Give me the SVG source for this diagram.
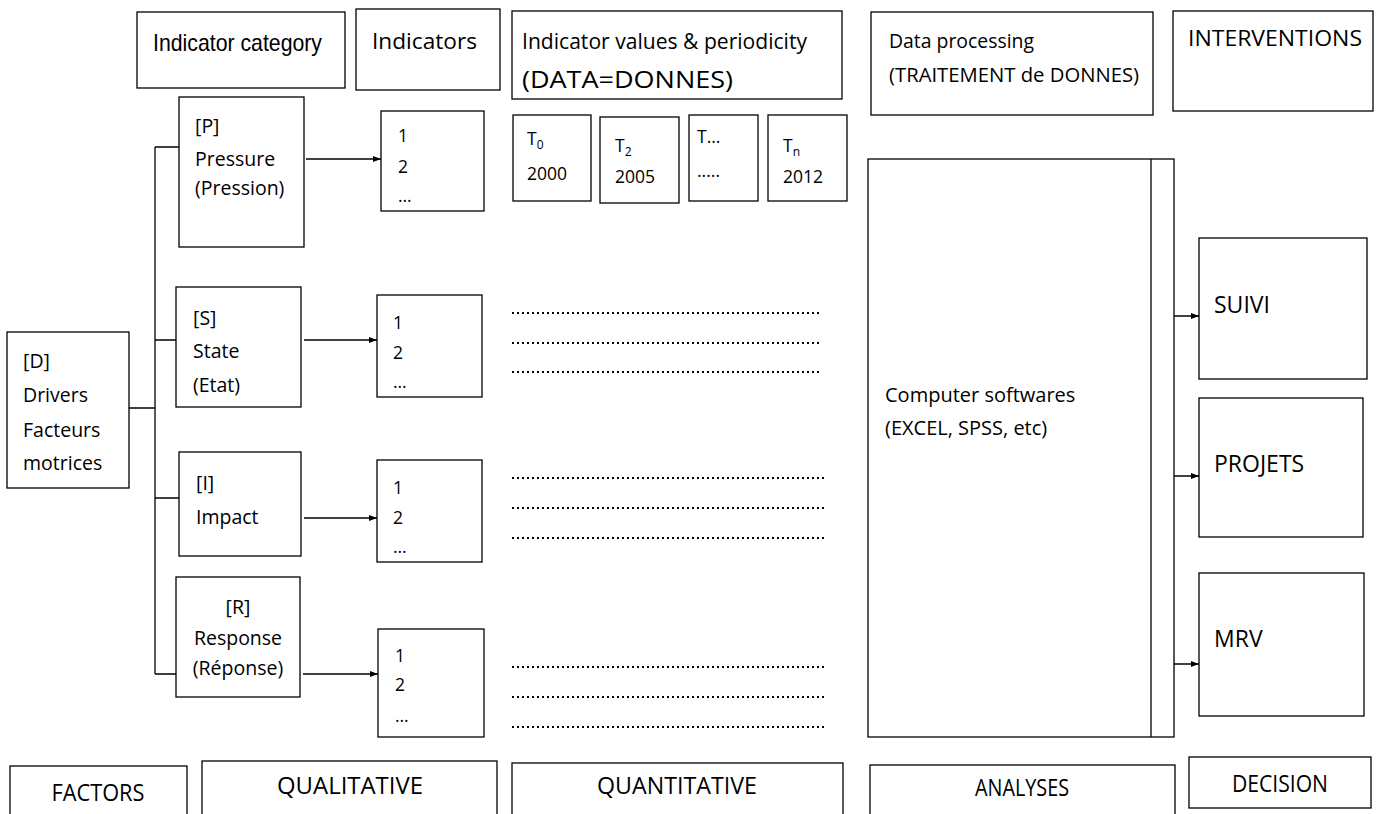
<svg xmlns="http://www.w3.org/2000/svg" width="1386" height="814" viewBox="0 0 1386 814">
<defs>
<marker id="ah" markerWidth="8" markerHeight="6" refX="8" refY="3" orient="auto" markerUnits="userSpaceOnUse"><path d="M0,0 L8,3 L0,6 z" fill="#000"/></marker>
</defs>
<style>
rect{fill:#fff;stroke:#000;stroke-width:1.3}
text{font-family:"Open Sans","Noto Sans",sans-serif;fill:#000;font-size:19.5px}
.ln{stroke:#000;stroke-width:1.3;fill:none}
.ar{stroke:#000;stroke-width:1.5;fill:none;marker-end:url(#ah)}
.dot{stroke:#000;stroke-width:2;stroke-dasharray:2 3;fill:none}
.ix{font-size:17.5px}
.tb{font-size:17.5px}
.big{font-size:23px}
.bot{font-size:23px;text-anchor:middle}
</style>
<rect x="0" y="0" width="1386" height="814" style="stroke:none;fill:#fff"/>

<g id="hdr-category"><rect x="137" y="12" width="208" height="76"/><text x="153" y="51" style="font-family:'Liberation Sans',sans-serif;font-size:24px" textLength="169" lengthAdjust="spacingAndGlyphs">Indicator category</text></g>
<g id="hdr-indicators"><rect x="356" y="9" width="144" height="81"/><text x="372" y="49" style="font-size:22px" textLength="105" lengthAdjust="spacingAndGlyphs">Indicators</text></g>
<g id="hdr-values"><rect x="512" y="11" width="330" height="88"/><text x="522" y="49" style="font-size:21.5px" textLength="285" lengthAdjust="spacingAndGlyphs">Indicator values &amp; periodicity</text><text x="522" y="88" style="font-size:23px" textLength="211" lengthAdjust="spacingAndGlyphs">(DATA=DONNES)</text></g>
<g id="hdr-processing"><rect x="871" y="12" width="282" height="103"/><text x="889" y="48" style="font-size:20.5px" textLength="145" lengthAdjust="spacingAndGlyphs">Data processing</text><text x="889" y="82" style="font-size:20.5px" textLength="250" lengthAdjust="spacingAndGlyphs">(TRAITEMENT de DONNES)</text></g>
<g id="hdr-interventions"><rect x="1173" y="11" width="200" height="100"/><text x="1188" y="46" style="font-size:22px" textLength="174" lengthAdjust="spacingAndGlyphs">INTERVENTIONS</text></g>

<g id="connectors">
<path class="ln" d="M155,147 V674 M155,147 H179 M129,408 H155 M155,340 H176 M155,498 H179 M155,674 H176"/>
<path class="ar" d="M306,159 H381"/>
<path class="ar" d="M304,340 H377"/>
<path class="ar" d="M304,518 H377"/>
<path class="ar" d="M303,674 H378"/>
<path class="ar" d="M1172,316 H1199"/>
<path class="ar" d="M1172,476 H1199"/>
<path class="ar" d="M1172,664 H1199"/>
</g>

<g id="node-D"><rect x="7" y="332" width="122" height="156"/><text x="23" y="368">[D]</text><text x="23" y="402">Drivers</text><text x="23" y="437">Facteurs</text><text x="23" y="470">motrices</text></g>
<g id="node-P"><rect x="179" y="97" width="125" height="150"/><text x="195" y="133">[P]</text><text x="195" y="166">Pressure</text><text x="195" y="195">(Pression)</text></g>
<g id="node-S"><rect x="176" y="287" width="125" height="120"/><text x="193" y="325">[S]</text><text x="193" y="358">State</text><text x="193" y="392">(Etat)</text></g>
<g id="node-I"><rect x="179" y="452" width="122" height="104"/><text x="196" y="490">[I]</text><text x="196" y="524">Impact</text></g>
<g id="node-R"><rect x="176" y="577" width="124" height="120"/><text x="238" y="614" text-anchor="middle">[R]</text><text x="238" y="645" text-anchor="middle">Response</text><text x="238" y="675" text-anchor="middle">(Réponse)</text></g>

<g id="ind-P"><rect x="381" y="111" width="103" height="100"/><text class="ix" x="398" y="142">1</text><text class="ix" x="398" y="173">2</text><text class="ix" x="398" y="202">…</text></g>
<g id="ind-S"><rect x="377" y="295" width="105" height="102"/><text class="ix" x="393" y="329">1</text><text class="ix" x="393" y="359">2</text><text class="ix" x="393" y="388">…</text></g>
<g id="ind-I"><rect x="377" y="460" width="105" height="102"/><text class="ix" x="393" y="494">1</text><text class="ix" x="393" y="524">2</text><text class="ix" x="393" y="553">…</text></g>
<g id="ind-R"><rect x="378" y="629" width="106" height="108"/><text class="ix" x="395" y="662">1</text><text class="ix" x="395" y="691">2</text><text class="ix" x="395" y="722">…</text></g>

<g id="t0"><rect x="513" y="115" width="78" height="86"/><text class="tb" x="527" y="145">T<tspan dy="4" font-size="12">0</tspan></text><text class="tb" x="527" y="180">2000</text></g>
<g id="t2"><rect x="600" y="117" width="79" height="86"/><text class="tb" x="615" y="152">T<tspan dy="4" font-size="12">2</tspan></text><text class="tb" x="615" y="183">2005</text></g>
<g id="tdots"><rect x="689" y="115" width="69" height="86"/><text class="tb" x="697" y="143">T…</text><text class="tb" x="697" y="177">.....</text></g>
<g id="tn"><rect x="768" y="115" width="79" height="86"/><text class="tb" x="783" y="152">T<tspan dy="4" font-size="12">n</tspan></text><text class="tb" x="783" y="183">2012</text></g>

<g id="values-dots">
<path class="dot" d="M512,313 H819 M512,343 H819 M512,372 H819"/>
<path class="dot" d="M512,478 H826 M512,508 H826 M512,538 H826"/>
<path class="dot" d="M512,667 H826 M512,697 H826 M512,727 H826"/>
</g>

<g id="software"><rect x="868" y="159" width="306" height="578"/><path class="ln" d="M1151,159 V737"/><text x="885" y="402" style="font-size:20px">Computer softwares</text><text x="885" y="435" style="font-size:20px">(EXCEL, SPSS, etc)</text></g>

<g id="suivi"><rect x="1199" y="238" width="168" height="141"/><text class="big" x="1214" y="313">SUIVI</text></g>
<g id="projets"><rect x="1199" y="398" width="164" height="139"/><text class="big" x="1214" y="472">PROJETS</text></g>
<g id="mrv"><rect x="1199" y="573" width="165" height="143"/><text class="big" x="1214" y="647">MRV</text></g>

<g id="factors"><rect x="10" y="766" width="177" height="60"/><text class="bot" x="98" y="801" textLength="93" lengthAdjust="spacingAndGlyphs">FACTORS</text></g>
<g id="qualitative"><rect x="202" y="761" width="295" height="60"/><text class="bot" x="350" y="794" textLength="146" lengthAdjust="spacingAndGlyphs">QUALITATIVE</text></g>
<g id="quantitative"><rect x="512" y="763" width="331" height="60"/><text class="bot" x="677" y="794" textLength="160" lengthAdjust="spacingAndGlyphs">QUANTITATIVE</text></g>
<g id="analyses"><rect x="870" y="765" width="305" height="60"/><text class="bot" x="1022" y="796" textLength="94" lengthAdjust="spacingAndGlyphs">ANALYSES</text></g>
<g id="decision"><rect x="1189" y="757" width="182" height="51"/><text class="bot" x="1280" y="792" textLength="96" lengthAdjust="spacingAndGlyphs">DECISION</text></g>
</svg>
